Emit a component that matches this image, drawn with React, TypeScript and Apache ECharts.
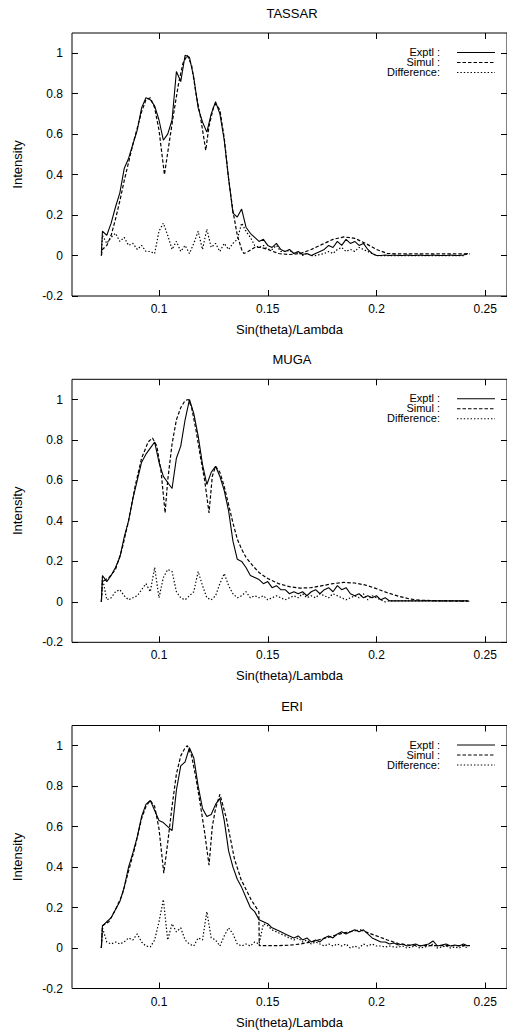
import React, { useEffect, useRef } from 'react';
import * as echarts from 'echarts';

const TITLES = ['TASSAR', 'MUGA', 'ERI'];
const X_TICKS = [0.1, 0.15, 0.2, 0.25];
const Y_TICKS = [-0.2, 0, 0.2, 0.4, 0.6, 0.8, 1];
const LEGEND = ['Exptl :', 'Simul :', 'Difference:'];
const X_NAME = 'Sin(theta)/Lambda';
const Y_NAME = 'Intensity';

// common sampling of the measured curve and the difference curve
const EX = [0.0735,
  0.074, 0.076, 0.078, 0.080, 0.082, 0.084, 0.086, 0.088, 0.090, 0.092,
  0.094, 0.096, 0.098, 0.100, 0.102, 0.104, 0.106, 0.108, 0.110, 0.112,
  0.114, 0.116, 0.118, 0.120, 0.122, 0.124, 0.126, 0.128, 0.130, 0.132,
  0.134, 0.136, 0.138, 0.140, 0.142, 0.144, 0.146, 0.148, 0.150, 0.152,
  0.154, 0.156, 0.158, 0.160, 0.162, 0.164, 0.166, 0.168, 0.170, 0.172,
  0.174, 0.176, 0.178, 0.180, 0.182, 0.184, 0.186, 0.188, 0.190, 0.192,
  0.194, 0.196, 0.198, 0.200, 0.202, 0.204, 0.206, 0.208, 0.210, 0.212,
  0.214, 0.216, 0.218, 0.220, 0.222, 0.224, 0.226, 0.228, 0.230, 0.232,
  0.234, 0.236, 0.238, 0.240, 0.242];

// ---------- TASSAR ----------
const TASSAR_EXPTL = [
  0.01, 0.12, 0.10, 0.16, 0.24, 0.31, 0.43, 0.48, 0.55, 0.62,
  0.73, 0.78, 0.77, 0.74, 0.67, 0.57, 0.60, 0.67, 0.91, 0.86,
  0.99, 0.98, 0.88, 0.73, 0.66, 0.61, 0.70, 0.76, 0.70, 0.57,
  0.38, 0.21, 0.19, 0.23, 0.14, 0.11, 0.09, 0.07, 0.08, 0.05,
  0.04, 0.06, 0.03, 0.02, 0.03, 0.01, 0.02, 0.005, 0.01, 0.0,
  0.01, 0.02, 0.03, 0.05, 0.04, 0.07, 0.05, 0.08, 0.06, 0.07,
  0.05, 0.06, 0.03, 0.01, 0.0, 0.0, 0.003, 0.0, 0.003, 0.0,
  0.0, 0.003, 0.0, 0.0, 0.003, 0.0, 0.0, 0.003, 0.0, 0.0,
  0.0, 0.003, 0.0, 0.0, 0.003, 0.01];
const TASSAR_DIFF = [
  0.0, 0.10, 0.06, 0.09, 0.11, 0.07, 0.09, 0.05, 0.06, 0.03,
  0.05, 0.02, 0.02, 0.01, 0.12, 0.16, 0.10, 0.03, 0.07, 0.02,
  0.05, 0.01, 0.06, 0.12, 0.03, 0.13, 0.04, 0.06, 0.02, 0.06,
  0.03, 0.06, 0.08, 0.16, 0.12, 0.09, 0.05, 0.04, 0.05, 0.03,
  0.03, 0.05, 0.02, 0.02, 0.025, 0.01, 0.015, 0.0, 0.01, 0.0,
  0.0, 0.005, 0.01, 0.02, 0.01, 0.03, 0.04, 0.02, 0.03, 0.02,
  0.04, 0.03, 0.02, 0.01, 0.0, 0.0, 0.0, 0.0, 0.0, 0.0,
  0.0, 0.0, 0.0, 0.0, 0.0, 0.0, 0.0, 0.0, 0.0, 0.0,
  0.0, 0.0, 0.0, 0.0, 0.0, 0.01];
const TASSAR_SIM_X = [0.0735, 0.074, 0.076, 0.078, 0.080, 0.082, 0.084, 0.086, 0.088, 0.090,
  0.092, 0.094, 0.096, 0.098, 0.100, 0.1025, 0.105, 0.107, 0.109, 0.111,
  0.113, 0.115, 0.117, 0.119, 0.1215, 0.123, 0.125, 0.126, 0.128, 0.130,
  0.132, 0.134, 0.136, 0.138, 0.139, 0.141, 0.144, 0.147, 0.150, 0.155,
  0.160, 0.165, 0.170, 0.175, 0.180, 0.185, 0.190, 0.195, 0.200, 0.205,
  0.210, 0.243];
const TASSAR_SIM = [0.0, 0.03, 0.05, 0.10, 0.18, 0.27, 0.37, 0.46, 0.55, 0.63,
  0.71, 0.77, 0.78, 0.73, 0.62, 0.40, 0.58, 0.72, 0.85, 0.95,
  0.99, 0.94, 0.80, 0.69, 0.52, 0.64, 0.73, 0.75, 0.72, 0.58,
  0.38, 0.22, 0.10, 0.03, 0.01, 0.02, 0.04, 0.04, 0.03, 0.01,
  0.005, 0.01, 0.03, 0.055, 0.08, 0.092, 0.085, 0.06, 0.03, 0.01,
  0.008, 0.008];

// ---------- MUGA ----------
const MUGA_EXPTL = [
  0.0, 0.13, 0.10, 0.13, 0.17, 0.22, 0.32, 0.40, 0.51, 0.60,
  0.69, 0.73, 0.76, 0.79, 0.69, 0.62, 0.59, 0.56, 0.71, 0.77,
  0.90, 1.0, 0.93, 0.82, 0.68, 0.58, 0.64, 0.67, 0.62, 0.55,
  0.45, 0.30, 0.21, 0.20, 0.17, 0.13, 0.12, 0.11, 0.09, 0.10,
  0.07, 0.08, 0.06, 0.06, 0.04, 0.05, 0.04, 0.05, 0.03, 0.05,
  0.06, 0.04, 0.06, 0.07, 0.05, 0.08, 0.06, 0.07, 0.04, 0.03,
  0.04, 0.02, 0.03, 0.02, 0.03, 0.01, 0.02, 0.005, 0.005, 0.005,
  0.005, 0.005, 0.005, 0.005, 0.005, 0.005, 0.005, 0.005, 0.005, 0.005,
  0.005, 0.005, 0.005, 0.005, 0.005, 0.005];
const MUGA_DIFF = [
  0.0, 0.12, 0.01, 0.02, 0.05, 0.06, 0.03, 0.01, 0.02, 0.03,
  0.06, 0.09, 0.05, 0.17, 0.02, 0.12, 0.16, 0.15, 0.05, 0.02,
  0.01, 0.03, 0.05, 0.15, 0.08, 0.02, 0.01, 0.03, 0.09, 0.14,
  0.08, 0.04, 0.02, 0.03, 0.05, 0.02, 0.03, 0.02, 0.03, 0.01,
  0.02, 0.03, 0.02, 0.01, 0.02, 0.03, 0.02, 0.04, 0.02, 0.03,
  0.02, 0.04, 0.03, 0.02, 0.04, 0.03, 0.02, 0.01, 0.02, 0.03,
  0.02, 0.04, 0.01, 0.03, 0.02, 0.01, 0.0, 0.005, 0.005, 0.005,
  0.005, 0.005, 0.005, 0.005, 0.005, 0.005, 0.005, 0.005, 0.005, 0.005,
  0.005, 0.005, 0.005, 0.005, 0.005, 0.005];
const MUGA_SIM_X = [0.0735, 0.074, 0.077, 0.080, 0.083, 0.086, 0.089, 0.092, 0.095, 0.097,
  0.099, 0.101, 0.1028, 0.104, 0.106, 0.108, 0.110, 0.112, 0.1135, 0.115,
  0.117, 0.119, 0.121, 0.123, 0.1245, 0.126, 0.128, 0.130, 0.132, 0.134,
  0.136, 0.138, 0.140, 0.143, 0.146, 0.150, 0.155, 0.160, 0.165, 0.170,
  0.175, 0.180, 0.185, 0.190, 0.195, 0.200, 0.205, 0.210, 0.215, 0.220,
  0.230, 0.243];
const MUGA_SIM = [0.0, 0.10, 0.12, 0.16, 0.26, 0.40, 0.57, 0.71, 0.79, 0.81,
  0.77, 0.64, 0.44, 0.60, 0.78, 0.90, 0.96, 0.995, 1.0, 0.96,
  0.85, 0.72, 0.60, 0.44, 0.62, 0.67, 0.64, 0.57, 0.48, 0.39,
  0.31, 0.26, 0.22, 0.18, 0.145, 0.115, 0.09, 0.075, 0.068, 0.07,
  0.08, 0.09, 0.096, 0.093, 0.083, 0.065, 0.045, 0.028, 0.015, 0.008,
  0.005, 0.003];

// ---------- ERI ----------
const ERI_EXPTL = [
  0.0, 0.11, 0.13, 0.15, 0.19, 0.23, 0.30, 0.40, 0.47, 0.55,
  0.65, 0.71, 0.73, 0.68, 0.63, 0.62, 0.60, 0.58, 0.78, 0.90,
  0.92, 0.99, 0.94, 0.80, 0.69, 0.65, 0.66, 0.71, 0.74, 0.63,
  0.48, 0.40, 0.34, 0.30, 0.25, 0.20, 0.18, 0.14, 0.13, 0.12,
  0.10, 0.09, 0.08, 0.07, 0.06, 0.05, 0.06, 0.04, 0.05, 0.03,
  0.04, 0.03, 0.05, 0.06, 0.05, 0.07, 0.08, 0.07, 0.08, 0.09,
  0.08, 0.09, 0.07, 0.05, 0.04, 0.03, 0.03, 0.02, 0.025, 0.015,
  0.02, 0.01, 0.015, 0.02, 0.01, 0.015, 0.02, 0.035, 0.01, 0.015,
  0.02, 0.01, 0.015, 0.01, 0.02, 0.01];
const ERI_DIFF = [
  0.0, 0.10, 0.03, 0.02, 0.03, 0.02, 0.03, 0.05, 0.04, 0.07,
  0.03, 0.01, 0.005, 0.04, 0.13, 0.24, 0.04, 0.12, 0.08, 0.10,
  0.04, 0.02, 0.01, 0.05, 0.04, 0.18, 0.05, 0.04, 0.01, 0.06,
  0.10, 0.07, 0.02, 0.01, 0.02, 0.01, 0.03, 0.02, 0.12, 0.11,
  0.09, 0.08, 0.07, 0.06, 0.05, 0.04, 0.05, 0.03, 0.04, 0.02,
  0.03, 0.02, 0.01, 0.02, 0.01, 0.02, 0.01, 0.02, 0.0, 0.01,
  0.0, 0.02, 0.01, 0.02, 0.01, 0.01, 0.005, 0.01, 0.005, 0.005,
  0.01, 0.0, 0.005, 0.01, 0.0, 0.005, 0.01, 0.02, 0.0, 0.005,
  0.01, 0.0, 0.005, 0.0, 0.01, 0.0];
const ERI_SIM_X = [0.0735, 0.074, 0.077, 0.080, 0.083, 0.086, 0.089, 0.092, 0.094, 0.096,
  0.098, 0.100, 0.1022, 0.104, 0.106, 0.108, 0.110, 0.112, 0.113, 0.115,
  0.117, 0.119, 0.121, 0.123, 0.1245, 0.126, 0.128, 0.131, 0.1347, 0.1377,
  0.1423, 0.1459, 0.1461, 0.150, 0.155, 0.160, 0.165, 0.170, 0.175, 0.180,
  0.185, 0.1925, 0.200, 0.205, 0.210, 0.215, 0.220, 0.243];
const ERI_SIM = [0.0, 0.11, 0.13, 0.19, 0.26, 0.38, 0.50, 0.64, 0.70, 0.73,
  0.70, 0.59, 0.37, 0.52, 0.70, 0.86, 0.95, 0.99, 1.0, 0.95,
  0.84, 0.71, 0.57, 0.41, 0.60, 0.69, 0.76, 0.64, 0.44, 0.34,
  0.24, 0.18, 0.012, 0.012, 0.012, 0.014, 0.02, 0.03, 0.045, 0.06,
  0.075, 0.09, 0.06, 0.04, 0.022, 0.015, 0.012, 0.012];

const PANELS = [
  { exptl: TASSAR_EXPTL, diff: TASSAR_DIFF, simX: TASSAR_SIM_X, sim: TASSAR_SIM },
  { exptl: MUGA_EXPTL, diff: MUGA_DIFF, simX: MUGA_SIM_X, sim: MUGA_SIM },
  { exptl: ERI_EXPTL, diff: ERI_DIFF, simX: ERI_SIM_X, sim: ERI_SIM },
];

const FONT = '"Liberation Sans", Arial, Helvetica, sans-serif';
const TOPS = [33, 379.3, 725.5];
const PLOT_H = 263;
const DASH_SIM = [3.5, 2];
const DASH_DIFF = [1.4, 2];

function pairs(xs: number[], ys: number[]) {
  const n = Math.min(xs.length, ys.length);
  const out: number[][] = [];
  for (let i = 0; i < n; i++) out.push([xs[i], ys[i]]);
  return out;
}

export default function App() {
  const ref = useRef<HTMLDivElement>(null);
  useEffect(() => {
    const chart = echarts.init(ref.current!, null, { renderer: 'svg' });
    const grid: any[] = [];
    const xAxis: any[] = [];
    const yAxis: any[] = [];
    const series: any[] = [];
    const graphic: any[] = [];
    const tick = (vals: number[]) => ({
      show: true, inside: true, length: 6, customValues: vals,
      lineStyle: { color: '#000', width: 1 },
    });
    const noLine = { show: false, onZero: false };
    TOPS.forEach((top, i) => {
      grid.push({ left: 72, right: -5, top, height: PLOT_H, show: true, borderColor: '#000', borderWidth: 1 });
      xAxis.push({
        gridIndex: i, type: 'value', position: 'bottom', min: 0.06, max: 0.26,
        axisLine: noLine, axisTick: tick(X_TICKS), splitLine: { show: false },
        axisLabel: {
          customValues: X_TICKS, margin: 7, fontSize: 12, color: '#000', fontFamily: FONT,
          formatter: (v: number) => String(Math.round(v * 100) / 100),
        },
        name: X_NAME, nameLocation: 'middle', nameGap: 27,
        nameTextStyle: { fontSize: 13, color: '#000', fontFamily: FONT },
      });
      xAxis.push({
        gridIndex: i, type: 'value', position: 'top', min: 0.06, max: 0.26,
        axisLine: noLine, axisTick: tick(X_TICKS), axisLabel: { show: false }, splitLine: { show: false },
      });
      yAxis.push({
        gridIndex: i, type: 'value', position: 'left', min: -0.2, max: 1.1,
        axisLine: noLine, axisTick: tick(Y_TICKS), splitLine: { show: false },
        axisLabel: {
          customValues: Y_TICKS, margin: 9, fontSize: 12, color: '#000', fontFamily: FONT,
          formatter: (v: number) => String(Math.round(v * 10) / 10),
        },
        name: Y_NAME, nameLocation: 'middle', nameRotate: 90, nameGap: 48,
        nameTextStyle: { fontSize: 13, color: '#000', fontFamily: FONT },
      });
      yAxis.push({
        gridIndex: i, type: 'value', position: 'right', min: -0.2, max: 1.1,
        axisLine: noLine, axisTick: tick(Y_TICKS), axisLabel: { show: false }, splitLine: { show: false },
      });
      const p = PANELS[i];
      const common = {
        type: 'line', xAxisIndex: 2 * i, yAxisIndex: 2 * i, symbol: 'none', showSymbol: false,
        silent: true, animation: false,
      };
      series.push({ ...common, name: 'Exptl' + i, data: pairs(EX, p.exptl), lineStyle: { color: '#000', width: 1.1, type: 'solid' } });
      series.push({ ...common, name: 'Simul' + i, data: pairs(p.simX, p.sim), lineStyle: { color: '#000', width: 1.2, type: DASH_SIM } });
      series.push({ ...common, name: 'Diff' + i, data: pairs(EX, p.diff), lineStyle: { color: '#000', width: 1.2, type: DASH_DIFF } });

      graphic.push({
        type: 'text', x: 292, y: top - 19.5,
        style: { text: TITLES[i], fill: '#000', font: `13px ${FONT}`, align: 'center', verticalAlign: 'middle' },
      });
      const dashes = [null, DASH_SIM, DASH_DIFF];
      LEGEND.forEach((label, r) => {
        const yy = top + 19 + r * 10;
        graphic.push({
          type: 'text', x: 440, y: yy,
          style: { text: label, fill: '#000', font: `11px ${FONT}`, align: 'right', verticalAlign: 'middle' },
        });
        graphic.push({
          type: 'line', shape: { x1: 457, y1: yy + 0.5, x2: 495, y2: yy + 0.5 },
          style: { stroke: '#000', lineWidth: 1.1, lineDash: dashes[r] || undefined },
        });
      });
    });
    chart.setOption({
      animation: false,
      backgroundColor: '#fff',
      grid, xAxis, yAxis, series, graphic,
    });
    return () => chart.dispose();
  }, []);
  return <div ref={ref} style={{ position: 'absolute', left: 0, top: 0, width: 507, height: 1032 }} />;
}
